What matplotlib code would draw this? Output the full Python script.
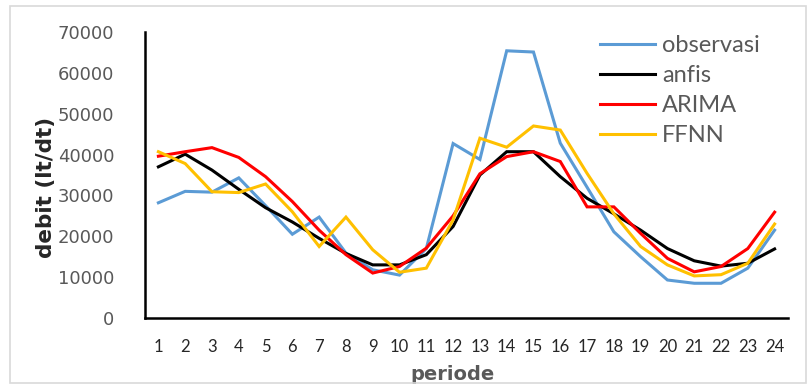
import matplotlib
matplotlib.use("Agg")
import matplotlib.pyplot as plt
from matplotlib.patches import Rectangle

# periods and series values (lt/dt)
periode = list(range(1, 25))
observasi = [28200, 31000, 30800, 34300, 27500, 20500, 24700, 15900, 11800, 10500, 17000, 42700,
             38800, 65400, 65100, 42800, 32000, 21100, 15000, 9300, 8500, 8500, 12200, 21500]
anfis = [37000, 40100, 36200, 31500, 27000, 23500, 19500, 15800, 13000, 13000, 15500, 22400,
         35000, 40700, 40700, 34600, 29300, 25500, 21500, 17000, 14000, 12700, 13400, 16900]
arima = [39600, 40700, 41700, 39300, 34600, 28500, 21500, 15500, 11000, 12600, 17100, 25000,
         35300, 39500, 40700, 38300, 27200, 27200, 20700, 14600, 11300, 12600, 17000, 25900]
ffnn = [40700, 37800, 30900, 30700, 32800, 26000, 17500, 24700, 16700, 11200, 12200, 24000,
        44000, 41800, 47000, 46000, 35400, 25500, 17500, 13000, 10300, 10600, 13400, 23000]

series_names = ["observasi", "anfis", "ARIMA", "FFNN"]
series_colors = ["#5B9BD5", "#000000", "#FF0000", "#FFC000"]
yticks = [0, 10000, 20000, 30000, 40000, 50000, 60000, 70000]

W, H = 810, 390
fig = plt.figure(figsize=(W / 100, H / 100), dpi=100)

# light grey outer frame of the chart area
fig.add_artist(Rectangle((10 / W, 1 - 383 / H), (806 - 10) / W, (383 - 6) / H,
                         transform=fig.transFigure, fill=False,
                         edgecolor="#D9D9D9", linewidth=1.2))

left, right, top, bottom = 145, 788, 32, 318
ax = fig.add_axes([left / W, 1 - bottom / H, (right - left) / W, (bottom - top) / H])

for vals, name, col in zip([observasi, anfis, arima, ffnn], series_names, series_colors):
    ax.plot(periode, vals, color=col, linewidth=2.2, label=name, solid_joinstyle="miter")

ax.set_xlim(0.5, 24.5)
ax.set_ylim(0, 70000)
ax.set_xticks(periode)
ax.set_xticklabels([str(p) for p in periode], family=["Lato", "DejaVu Sans"],
                   fontsize=12, color="#262626")
ax.set_yticks(yticks)
ax.set_yticklabels([str(v) for v in yticks], family=["DejaVu Sans"], fontsize=13,
                   color="#595959")
ax.tick_params(axis="both", length=0)
ax.tick_params(axis="y", pad=22)
ax.tick_params(axis="x", pad=15)

for s in ["top", "right"]:
    ax.spines[s].set_visible(False)
for s in ["left", "bottom"]:
    ax.spines[s].set_linewidth(1.8)
    ax.spines[s].set_color("#000000")

ax.set_ylabel("debit (lt/dt)", fontsize=15.5, fontweight="bold", color="#262626",
              family=["DejaVu Sans"])
ax.yaxis.set_label_coords(46 / W, 1 - 187 / H, transform=fig.transFigure)
ax.yaxis.label.set_va("center")
ax.set_xlabel("periode", fontsize=14, fontweight="bold", color="#595959",
              family=["DejaVu Sans"])
ax.xaxis.set_label_coords(452 / W, 1 - 375 / H, transform=fig.transFigure)
ax.xaxis.label.set_va("center")

fs = 17
fs_px = fs * 100 / 72
leg = ax.legend(loc="upper left", bbox_to_anchor=(600 / W, 1 - 35 / H),
                bbox_transform=fig.transFigure, frameon=False,
                prop={"family": ["Lato", "DejaVu Sans"], "size": fs},
                handlelength=55 / fs_px, handletextpad=7 / fs_px,
                borderpad=0, borderaxespad=0, labelspacing=0.38)
for t in leg.get_texts():
    t.set_color("#595959")

fig.savefig("out.png", dpi=100)
